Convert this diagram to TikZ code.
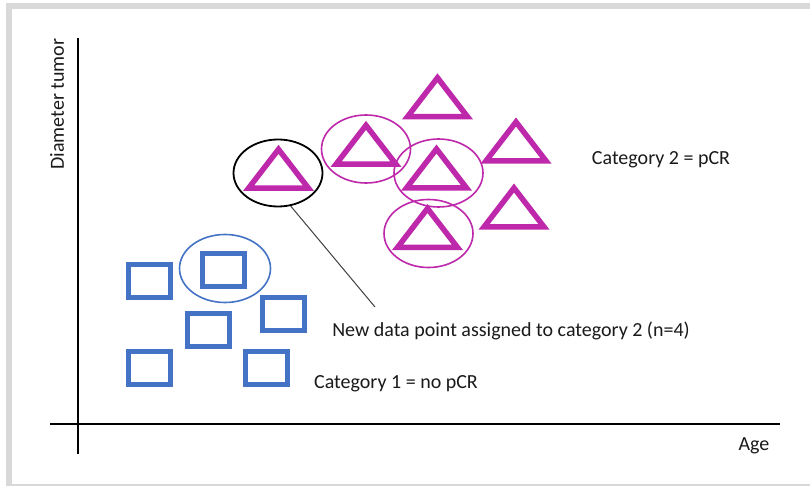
\documentclass[tikz,border=0pt]{standalone}
\usepackage{fontspec}
\setmainfont{Carlito}
\usetikzlibrary{shapes.geometric}
\definecolor{sqblue}{HTML}{4472C4}
\definecolor{trimag}{RGB}{190,40,170}
\definecolor{framegray}{HTML}{D9D9D9}
\definecolor{txt}{HTML}{1A1A1A}
\begin{document}
\begin{tikzpicture}[x=1pt,y=-1pt,
  sqbox/.style={draw=sqblue, line width=5pt, minimum width=42pt, minimum height=33pt, inner sep=0pt, outer sep=0pt},
  ringmag/.style={draw=trimag, line width=1.6pt, ellipse, minimum width=89pt, minimum height=68pt, inner sep=0pt},
  ringblue/.style={draw=sqblue, line width=1.6pt, ellipse, minimum width=91pt, minimum height=68pt, inner sep=0pt},
  ringblack/.style={draw=black, line width=1.8pt, ellipse, minimum width=89pt, minimum height=67pt, inner sep=0pt},
  lbl/.style={text=txt, font=\fontsize{20}{24}\selectfont, inner sep=0pt},
  axis/.style={draw=black, line width=1.3pt},
  tri/.pic={\draw[trimag, line width=5.5pt, miter limit=10] (-29.9,19.4) -- (0,-19.4) -- (29.9,19.4) -- cycle;}
]
\useasboundingbox (0,0) rectangle (810,486);
\fill[white] (0,0) rectangle (810,486);
\draw[framegray, line width=6pt] (9,6) rectangle (820,487);

% axes
\coordinate (ytop) at (78,38);
\coordinate (ybot) at (78,454);
\coordinate (xl) at (50,424);
\coordinate (xr) at (780,424);
\draw[axis] (ytop) -- (ybot);
\draw[axis] (xl) -- (xr);
\node[lbl, rotate=90] (ylab) at (57,104) {Diameter tumor};
\node[lbl] (xlab) at (754,446) {Age};

% category 1 squares
\node[sqbox] (s1) at (149.5,281) {};
\node[sqbox] (s2) at (223.5,269.5) {};
\node[sqbox] (s3) at (283,314) {};
\node[sqbox] (s4) at (208,330) {};
\node[sqbox] (s5) at (149.5,368) {};
\node[sqbox] (s6) at (266,368) {};
\node[ringblue] (e1) at (225,268.5) {};

% category 2 triangles
\pic at (437.5,97.2) {tri};
\pic at (366,144.75) {tri};
\pic at (516,141.4) {tri};
\pic at (436.5,168.4) {tri};
\pic at (514,207.4) {tri};
\pic at (427.5,227.9) {tri};
\node[ringmag] (e2) at (366,149) {};
\node[ringmag] (e4) at (438.5,173) {};
\node[ringmag] (e6) at (428.5,233.5) {};

% new data point
\pic at (278.5,168.75) {tri};
\node[ringblack] (e0) at (278,173) {};

% labels
\node[lbl] (cat2) at (661,160) {Category 2 = pCR};
\node[lbl] (newpt) at (511,331) {New data point assigned to category 2 (n=4)};
\node[lbl] (cat1) at (396,384) {Category 1 = no pCR};
\coordinate (lineend) at (375,307);
\draw[draw=black!75, line width=1pt] (e0.-69) -- (lineend);
\end{tikzpicture}
\end{document}
